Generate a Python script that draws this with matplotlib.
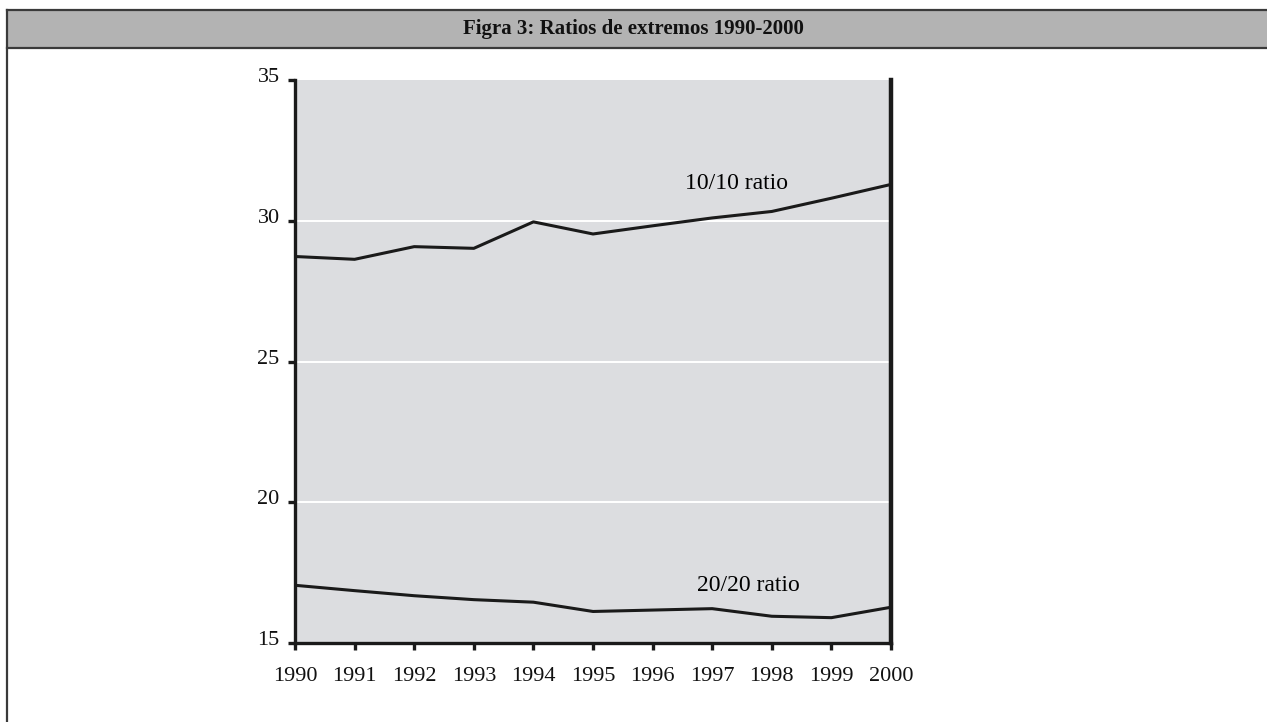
#!/usr/bin/env python3

import matplotlib.pyplot as plt
from matplotlib.patches import Rectangle
from matplotlib.lines import Line2D
from matplotlib.transforms import ScaledTranslation

###############################################################################
# Data
###############################################################################

years = [1990, 1991, 1992, 1993, 1994, 1995, 1996, 1997, 1998, 1999, 2000]
ratio_10_10 = [28.73, 28.63, 29.08, 29.02, 29.96, 29.53, 29.82, 30.10, 30.33, 30.80, 31.29]
ratio_20_20 = [17.05, 16.86, 16.68, 16.54, 16.45, 16.12, 16.17, 16.22, 15.95, 15.90, 16.27]
y_ticks = [15, 20, 25, 30, 35]
title = "Figra 3: Ratios de extremos 1990-2000"

###############################################################################
# Figure
###############################################################################

W, H = 1267, 722
plt.rcParams["font.family"] = ["Liberation Serif", "DejaVu Serif"]

fig = plt.figure(figsize=(W / 100, H / 100), dpi=100)


def fx(px):
    return px / W


def fy(py):
    return 1 - py / H


# title bar and frame
fig.add_artist(Rectangle((fx(7), fy(48)), 1, fy(10) - fy(48),
                         transform=fig.transFigure, facecolor="#b3b3b3",
                         edgecolor="none", zorder=0))
frame = dict(color="#3a3a3a", linewidth=1.6, transform=fig.transFigure)
fig.add_artist(Line2D([fx(7), 1], [fy(10), fy(10)], **frame))
fig.add_artist(Line2D([fx(7), 1], [fy(48), fy(48)], **frame))
fig.add_artist(Line2D([fx(7), fx(7)], [fy(10), 0], **frame))

fig.text(0.5, fy(29), title, ha="center", va="center",
         fontsize=15, fontweight="bold", color="#111111")

###############################################################################
# Axes
###############################################################################

ax = fig.add_axes([fx(295), fy(643), fx(891) - fx(295), fy(80) - fy(643)])
ax.set_facecolor("#dcdde0")

ax.plot(years, ratio_10_10, color="#1a1a1a", linewidth=2.2, zorder=3)
ax.plot(years, ratio_20_20, color="#1a1a1a", linewidth=2.2, zorder=3)

ax.text(1997.4, 31.34, "10/10 ratio", ha="center", va="center", fontsize=17)
ax.text(1997.6, 17.06, "20/20 ratio", ha="center", va="center", fontsize=17)

ax.set_xlim(1990, 2000)
ax.set_ylim(15, 35)
ax.set_xticks(years)
ax.set_yticks(y_ticks)

for y in [20, 25, 30]:
    ax.axhline(y, color="white", linewidth=1.4, zorder=1)

ax.spines["top"].set_visible(False)
for side in ["left", "bottom"]:
    ax.spines[side].set_linewidth(2.4)
    ax.spines[side].set_color("#1a1a1a")
ax.spines["right"].set_linewidth(3.2)
ax.spines["right"].set_color("#1a1a1a")

ax.tick_params(axis="both", direction="out", length=5, width=2.4,
               color="#1a1a1a", labelsize=16, labelcolor="#111111")
ax.tick_params(axis="x", pad=12)
ax.tick_params(axis="y", pad=6)

offset = ScaledTranslation(0, 5 / 100, fig.dpi_scale_trans)
for lbl in ax.get_yticklabels():
    lbl.set_transform(lbl.get_transform() + offset)

plt.savefig("out.png", dpi=100)
